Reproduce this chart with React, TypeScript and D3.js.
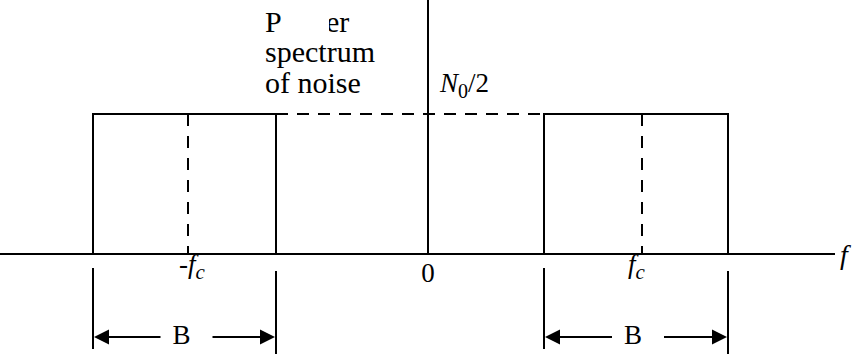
import React from "react";
import * as d3 from "d3";

const W = 855;
const H = 354;

// frequency positions (arbitrary units)
const bandEdges: [number, number][] = [[-3.35, -1.52], [1.16, 3.0]];
const bandCenters = [-2.4, 2.14];
const noiseLevel = 1; // N0/2
const axisTop = 1.97;
const dashedSpan: [number, number] = [-1.52, 1.16];
const tickLabels = ["-f", "0", "f"];

const x = d3.scaleLinear().domain([-4.28, 4.27]).range([0, W]);
const y = d3.scaleLinear().domain([0, 1]).range([254, 114]);

const serif = "Liberation Serif, Times New Roman, Times, DejaVu Serif, serif";
const tStyle = { fontFamily: serif } as React.CSSProperties;

function Arrow({ x1, x2, yy, dir }: { x1: number; x2: number; yy: number; dir: number }) {
  const hl = 15, hw = 7.5;
  const tip = x2;
  const base = tip - dir * hl;
  return (
    <g>
      <line x1={x1} x2={base} y1={yy} y2={yy} stroke="#000" strokeWidth={2.2} />
      <path d={`M${tip},${yy} L${base},${yy - hw} L${base},${yy + hw} Z`} fill="#000" />
    </g>
  );
}

export default function App() {
  const y0 = y(0);
  const yN = y(noiseLevel);
  return (
    <svg width={W} height={H} style={{ position: "absolute", left: 0, top: 0, background: "#fff" }}>
      {/* frequency axis */}
      <line x1={0} x2={x(4.07)} y1={y0} y2={y0} stroke="#000" strokeWidth={2} />
      {/* vertical axis */}
      <line x1={x(0)} x2={x(0)} y1={y(axisTop)} y2={y0} stroke="#000" strokeWidth={2} />
      {/* dashed level */}
      <line x1={x(dashedSpan[0])} x2={x(dashedSpan[1])} y1={yN} y2={yN} stroke="#000" strokeWidth={2} strokeDasharray="12 9" />
      {/* bands */}
      {bandEdges.map(([a, b], i) => (
        <g key={i}>
          <path d={`M${x(a)},${y0} L${x(a)},${yN} L${x(b)},${yN} L${x(b)},${y0}`} fill="none" stroke="#000" strokeWidth={2} />
          <line x1={x(bandCenters[i])} x2={x(bandCenters[i])} y1={yN} y2={y0} stroke="#000" strokeWidth={2} strokeDasharray="12 10" />
          {/* bandwidth brackets */}
          <line x1={x(a)} x2={x(a)} y1={268} y2={349} stroke="#000" strokeWidth={2} />
          <line x1={x(b)} x2={x(b)} y1={271} y2={354} stroke="#000" strokeWidth={2} />
          <Arrow x1={x((a + b) / 2) - 24} x2={x(a) + 1} yy={337} dir={-1} />
          <Arrow x1={x((a + b) / 2) + 28} x2={x(b) - 1} yy={337} dir={1} />
          <text x={x((a + b) / 2) - 3} y={344} style={tStyle} fontSize={27} textAnchor="middle">B</text>
        </g>
      ))}
      {/* tick labels */}
      <text x={x(bandCenters[0]) - 9} y={273} style={tStyle} fontSize={27}>
        <tspan>-</tspan>
        <tspan fontStyle="italic">{tickLabels[0].slice(1)}</tspan>
        <tspan fontStyle="italic" fontSize={21} dy={6}>c</tspan>
      </text>
      <text x={x(0)} y={282} style={tStyle} fontSize={27} textAnchor="middle">{tickLabels[1]}</text>
      <text x={x(bandCenters[1]) - 14} y={273} style={tStyle} fontSize={27}>
        <tspan fontStyle="italic">{tickLabels[2]}</tspan>
        <tspan fontStyle="italic" fontSize={21} dy={6}>c</tspan>
      </text>
      <text x={840} y={264} style={tStyle} fontSize={28} fontStyle="italic">f</text>
      {/* level label */}
      <text x={440} y={92} style={tStyle} fontSize={27}>
        <tspan fontStyle="italic">N</tspan>
        <tspan fontSize={20} dy={6}>0</tspan>
        <tspan dy={-6}>/2</tspan>
      </text>
      {/* title */}
      <text style={tStyle} fontSize={30}>
        <tspan x={265} y={32}>P</tspan>
        <tspan x={326} y={32}>er</tspan>
      </text>
      <text x={265} y={62} style={tStyle} fontSize={30}>spectrum</text>
      <text x={265} y={93} style={tStyle} fontSize={30}>of noise</text>
      <rect x={289} y={5} width={40} height={32} fill="#fff" />
    </svg>
  );
}
